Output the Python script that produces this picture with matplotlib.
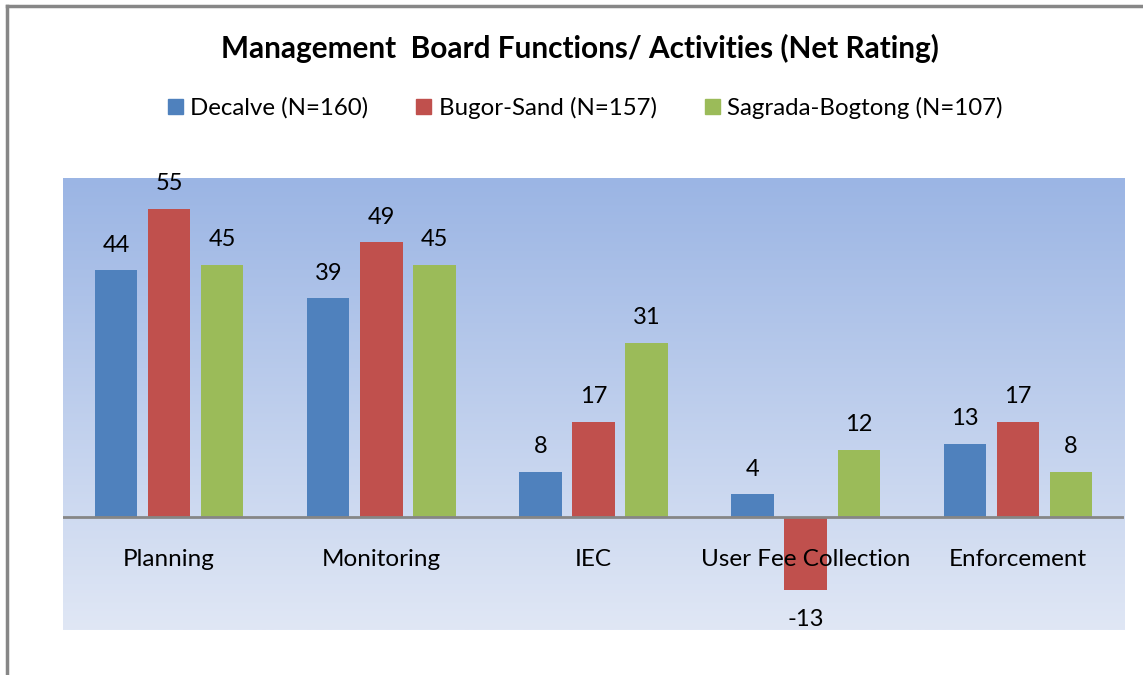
import matplotlib.pyplot as plt
import numpy as np
from matplotlib.lines import Line2D
from matplotlib.patches import Patch

plt.rcParams['font.family'] = ['Lato', 'DejaVu Sans']

categories = ["Planning", "Monitoring", "IEC", "User Fee Collection", "Enforcement"]
series_names = ["Decalve (N=160)", "Bugor-Sand (N=157)", "Sagrada-Bogtong (N=107)"]
decalve = [44, 39, 8, 4, 13]
bugor_sand = [55, 49, 17, -13, 17]
sagrada_bogtong = [45, 45, 31, 12, 8]
colors = ["#4F81BD", "#C0504D", "#9BBB59"]

fig = plt.figure(figsize=(11.43, 6.75), dpi=100)
ax = fig.add_axes([0.0551, 0.0667, 0.9283, 0.6696])

# gradient background of plot area
grad = np.linspace(0, 1, 256).reshape(-1, 1)
top = np.array([155, 181, 228]) / 255
bot = np.array([224, 231, 245]) / 255
img = top + (bot - top) * grad[:, :, None]
ax.imshow(img, extent=[0, 1, 0, 1], transform=ax.transAxes, aspect='auto', zorder=0)

x = np.arange(len(categories))
width = 0.2
all_series = [decalve, bugor_sand, sagrada_bogtong]
for i, (vals, c, name) in enumerate(zip(all_series, colors, series_names)):
    pos = x + (i - 1) * 0.25
    ax.bar(pos, vals, width, color=c, zorder=2, label=name)
    for p, v in zip(pos, vals):
        if v >= 0:
            ax.annotate(str(v), (p, v), xytext=(0, 13.5), textcoords='offset points',
                        ha='center', va='baseline', fontsize=17)
        else:
            ax.annotate(str(v), (p, v), xytext=(0, -26.5), textcoords='offset points',
                        ha='center', va='baseline', fontsize=17)

ax.set_xlim(-0.5, len(categories) - 0.5)
ax.set_ylim(-20.2, 60.5)
ax.axhline(0, color="#868686", lw=2, zorder=3)
for s in ax.spines.values():
    s.set_visible(False)
ax.set_yticks([])
ax.set_xticks([])
# category labels sit inside the plot area, under the zero line
for xi, cat in zip(x, categories):
    ax.text(xi, -8.85, cat, ha='center', va='baseline', fontsize=17.5, zorder=4)

fig.text(0.507, 0.914, "Management  Board Functions/ Activities (Net Rating)",
         fontsize=21.4, fontweight='bold', ha='center', va='baseline')
handles = [Patch(color=c) for c in colors]
fig.legend(handles, series_names, ncol=3, frameon=False, loc='center',
           bbox_to_anchor=(0.512, 0.84), fontsize=17.3, handlelength=0.62,
           handleheight=0.62, handletextpad=0.3, columnspacing=2.0)

# chart frame (left and top edges visible)
fig.add_artist(Line2D([0.0065, 0.0065], [0, 0.991], color="#878787", lw=2.5))
fig.add_artist(Line2D([0.0065, 1], [0.991, 0.991], color="#878787", lw=2.5))

fig.savefig("out.png", dpi=100)
